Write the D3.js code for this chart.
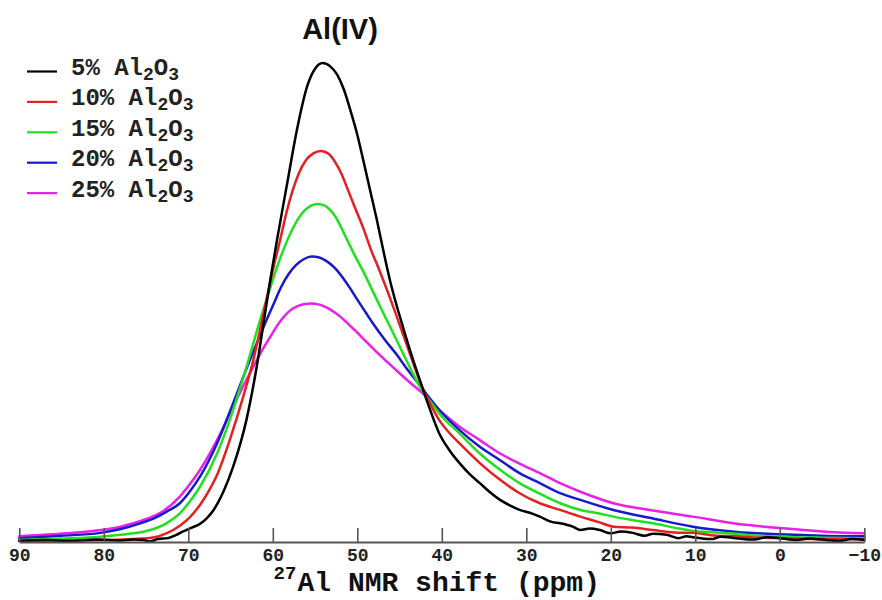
<!DOCTYPE html>
<html>
<head>
<meta charset="utf-8">
<script src="https://cdn.jsdelivr.net/npm/d3@7"></script>
<style>
  html, body { margin: 0; padding: 0; background: #fff; }
  svg { display: block; }
</style>
</head>
<body>
<svg id="chart" width="882" height="600"></svg>
<script>
// 27Al NMR spectra, Al(IV) region, for glasses with increasing Al2O3 content.
// Each series: [chemical shift (ppm), normalised intensity].
const al5 = [
  [90,0],[87,0.2],[84,0.0],[81,0.3],[78,0.1],[76.5,0.3],[75.3,0.2],[74.6,-0.1],[73.6,0.4],[72.4,0.6],
  [71.4,1.3],[70.6,2.0],[69.6,2.8],[68.6,3.6],[67.8,4.8],[67.0,6.5],[65.8,10.5],[64.7,15.5],[63.1,25.5],
  [61.9,36.5],[61.1,45.5],[60.3,54.6],[59.5,63.0],[58.3,74.8],[57.1,86.4],[55.9,95.3],[55.0,98.8],
  [54.1,100],[53.2,99.3],[52.4,97.6],[51.6,94.5],[50.8,90.0],[50.0,85.0],[49.3,79.7],[48.5,73.5],
  [47.7,67.3],[46.9,60.6],[46.1,54.3],[45.3,49.0],[44.6,44.8],[43.6,39.0],[42.6,33.7],[41.5,28.0],
  [40.3,22.5],[39.1,19.0],[37.9,16.3],[36.7,14.0],[35.5,12.1],[34.3,10.2],[33.1,8.6],[31.9,7.4],
  [30.8,6.5],[29.6,5.9],[28.4,5.1],[27.0,4.0],[26.0,3.7],[24.5,3.0],[23.6,2.3],[22.5,2.6],[21.3,2.3],
  [20.0,1.6],[18.8,2.0],[17.4,1.7],[16.0,1.1],[15.0,1.5],[13.4,1.3],[12.0,0.6],[11.0,1.0],[10.3,0.8],
  [8.0,0.4],[7.0,0.9],[5.2,0.6],[3.0,0.3],[1.5,0.8],[0,0.6],[-2,0.2],[-3.5,0.5],[-5,0.3],[-7,0.0],
  [-8.5,0.4],[-10,0.2]
];
const al10 = [
  [90,0],[85,0.1],[80,0.2],[76.5,0.4],[74,0.8],[72.6,1.6],[71.0,3.2],[69.8,5.0],[68.6,7.6],[67.6,10.4],
  [66.6,13.8],[65.1,21.1],[63.5,30.2],[62.3,37.9],[61.1,47.6],[59.9,57.4],[59.1,63.2],[58.4,68.6],
  [57.6,73.6],[56.9,77.0],[56.1,79.6],[55.2,81.1],[54.3,81.6],[53.4,81.0],[52.6,79.2],[51.8,76.5],
  [51.1,73.4],[50.2,69.4],[49.3,65.5],[48.4,61.0],[47.4,56.7],[46.1,50.7],[44.9,44.8],[43.7,38.8],
  [42.6,33.4],[41.4,28.8],[40.3,25.3],[39.1,22.6],[37.9,20.4],[35.5,16.3],[33.1,12.8],[30.8,10.0],
  [28.4,7.9],[26.0,6.5],[23.6,5.1],[21.5,4.0],[19.7,3.0],[17.5,2.8],[15,2.3],[12.5,1.8],[10.3,1.7],
  [7.5,1.1],[5.2,1.0],[2.5,0.7],[0,0.6],[-5,0.4],[-10,0.4]
];
const al15 = [
  [90,0.2],[85,0.5],[80.4,0.9],[77,1.5],[74.5,2.3],[72.6,3.7],[71.0,5.8],[69.8,8.3],[68.6,11.4],
  [66.6,18.3],[65.1,25.3],[63.1,36.5],[61.5,46.2],[60.6,51.3],[59.9,55.2],[59.2,58.8],[58.5,62.0],
  [57.8,64.8],[57.0,67.4],[56.2,69.2],[55.4,70.2],[54.7,70.5],[53.9,70.2],[53.2,69.2],[52.5,67.6],
  [51.8,65.2],[51.1,62.6],[50.2,59.4],[49.3,56.4],[48.1,52.0],[46.9,47.6],[45.7,43.3],[44.6,39.3],
  [43.6,35.7],[42.6,32.3],[41.4,29.3],[40.3,26.7],[37.9,22.5],[35.5,18.3],[33.1,14.9],[30.8,12.1],
  [28.4,9.9],[26.0,7.9],[23.6,6.5],[21.5,5.8],[19.7,5.1],[17.5,4.4],[15,3.7],[12.5,2.8],[10.3,2.1],
  [7.5,1.8],[5.2,1.5],[2.5,1.1],[0,0.9],[-5,0.7],[-10,0.6]
];
const al20 = [
  [90,0.6],[85,1.1],[80.4,1.7],[78,2.5],[75.7,3.7],[74,4.8],[72.6,6.1],[71.0,7.9],[69.8,10.4],
  [68.6,13.5],[66.6,20.4],[64.7,28.8],[62.7,37.9],[61.6,42.6],[60.7,46.4],[59.8,50.0],[59.0,53.2],
  [58.1,55.9],[57.2,57.8],[56.3,59.0],[55.4,59.5],[54.5,59.3],[53.6,58.5],[52.7,57.2],[51.8,55.3],
  [50.9,53.0],[50.0,50.5],[49.0,47.8],[48.1,45.4],[46.7,42.0],[45.3,38.9],[44.0,35.7],[42.6,32.6],
  [41.4,29.8],[40.3,27.4],[37.9,23.2],[35.5,19.7],[33.1,16.9],[30.8,14.2],[28.4,12.1],[26.0,10.0],
  [23.6,8.6],[19.7,6.5],[15,4.7],[10.3,3.0],[5.1,1.9],[0,1.4],[-5,1.1],[-10,1.0]
];
const al25 = [
  [90,1.0],[84.4,1.6],[80.4,2.3],[78,3.0],[76.5,3.7],[74.8,4.7],[73.3,5.9],[71.0,9.3],[69.8,11.9],
  [68.6,14.9],[66.6,21.1],[64.7,28.1],[62.3,36.5],[61.3,39.8],[60.3,42.7],[59.5,45.0],[58.7,46.9],
  [57.9,48.3],[57.0,49.2],[56.2,49.6],[55.4,49.7],[54.6,49.5],[53.8,49.0],[53.0,48.2],[52.2,47.2],
  [51.3,45.8],[50.3,44.1],[49.0,41.8],[47.7,39.5],[46.3,37.2],[45.0,35.1],[43.6,32.9],[42.2,30.8],
  [40.3,27.4],[37.9,23.9],[35.5,21.1],[33.1,18.3],[30.8,16.2],[28.4,14.2],[26.0,12.1],[23.6,10.3],
  [19.7,7.9],[15,6.4],[10.3,5.1],[5.1,3.6],[0,2.7],[-5,2.0],[-10,1.6]
];

const seriesData = [al5, al10, al15, al20, al25];
const seriesLabels = ["5%", "10%", "15%", "20%", "25%"];
const seriesColors = ["#000000", "#e42020", "#20e020", "#1818d0", "#e820e8"];
const majorTicks = [90, 80, 70, 60, 50, 40, 30, 20, 10, 0, -10];
const minorTicks = [85, 75, 65, 55, 45, 35, 25, 15, 5, -5];
const titleText = "Al(IV)";

const svg = d3.select("#chart");
const mono = "'Liberation Mono', 'Courier New', monospace";

const x = d3.scaleLinear().domain([90, -10]).range([19.3, 864.3]);
const y = d3.scaleLinear().domain([0, 100]).range([541, 63]);

// Spectra (sorted by increasing x pixel, i.e. decreasing shift)
const line = d3.line()
  .x(d => x(d[0]))
  .y(d => y(d[1]))
  .curve(d3.curveMonotoneX);

svg.append("g").selectAll("path")
  .data(seriesData.map((d, i) => ({ pts: d, color: seriesColors[i] })).reverse())
  .join("path")
  .attr("d", d => line(d.pts))
  .attr("fill", "none")
  .attr("stroke", d => d.color)
  .attr("stroke-width", 2.5)
  .attr("stroke-linejoin", "round")
  .attr("stroke-linecap", "round");

// Axis with inward ticks
const axisG = svg.append("g").attr("transform", "translate(0,542)");
axisG.call(d3.axisBottom(x).tickValues(minorTicks).tickSize(-7).tickSizeOuter(0).tickFormat(""));
axisG.call(d3.axisBottom(x).tickValues(majorTicks).tickSize(-14).tickSizeOuter(0).tickPadding(6)
  .tickFormat(d3.format("d")));
axisG.selectAll(".domain").attr("stroke", "#555").attr("stroke-width", 2);
axisG.selectAll(".tick line").attr("stroke", "#555").attr("stroke-width", 1.6);
axisG.selectAll(".tick text")
  .attr("fill", "#222")
  .style("font-family", mono)
  .style("font-weight", "bold")
  .style("font-size", "18px");

// Axis title
const xt = svg.append("text")
  .attr("x", 273.5).attr("y", 591)
  .style("font-family", mono).style("font-weight", "bold").attr("fill", "#111");
xt.append("tspan").attr("y", 579).style("font-size", "19px").text("27");
xt.append("tspan").attr("x", 297.5).attr("y", 591).style("font-size", "28px").text("Al NMR shift (ppm)");

// Title
svg.append("text")
  .attr("x", 340).attr("y", 38.5)
  .attr("text-anchor", "middle")
  .style("font-family", "'Liberation Sans', Arial, sans-serif")
  .style("font-weight", "bold").style("font-size", "29px")
  .attr("fill", "#111")
  .text(titleText);

// Legend
const legend = svg.append("g");
seriesLabels.forEach((lab, i) => {
  const base = 75 + i * 30.4;
  legend.append("line")
    .attr("x1", 27).attr("x2", 57)
    .attr("y1", base - 3.5).attr("y2", base - 3.5)
    .attr("stroke", seriesColors[i]).attr("stroke-width", 2.2);
  const t = legend.append("text")
    .attr("x", 71).attr("y", base)
    .style("font-family", mono).style("font-weight", "bold").style("font-size", "24px")
    .attr("fill", "#222");
  t.append("tspan").text(lab + " Al");
  t.append("tspan").attr("dy", 5).style("font-size", "18px").text("2");
  t.append("tspan").attr("dy", -5).text("O");
  t.append("tspan").attr("dy", 5).style("font-size", "18px").text("3");
});
</script>
</body>
</html>
